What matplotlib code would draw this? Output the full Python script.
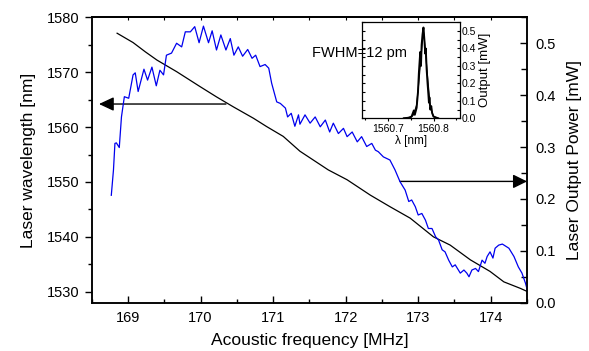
import matplotlib
matplotlib.use("Agg")
import matplotlib.pyplot as plt
from matplotlib.ticker import MultipleLocator

plt.rcParams['font.family'] = ['Liberation Sans', 'DejaVu Sans']

# blue curve: laser output power [mW] vs acoustic frequency [MHz]
power_freq = [168.77, 168.80, 168.82, 168.84, 168.88, 168.91, 168.95, 169.01, 169.07, 169.10,
              169.14, 169.22, 169.27, 169.33, 169.39, 169.44, 169.49, 169.53, 169.60, 169.67,
              169.74, 169.79, 169.86, 169.92, 169.98, 170.04, 170.11, 170.16, 170.22, 170.28,
              170.35, 170.41, 170.46, 170.52, 170.58, 170.65, 170.71, 170.76, 170.82, 170.89,
              170.94, 170.98, 171.05, 171.10, 171.17, 171.20, 171.25, 171.30, 171.35, 171.37,
              171.44, 171.51, 171.58, 171.65, 171.72, 171.78, 171.83, 171.90, 171.97, 172.02,
              172.09, 172.16, 172.22, 172.29, 172.36, 172.41, 172.45, 172.52, 172.61, 172.68,
              172.75, 172.82, 172.87, 172.91, 172.96, 173.00, 173.05, 173.10, 173.14, 173.19,
              173.24, 173.28, 173.33, 173.37, 173.42, 173.47, 173.51, 173.58, 173.63, 173.67,
              173.70, 173.74, 173.79, 173.83, 173.88, 173.92, 173.95, 173.99, 174.03, 174.06,
              174.11, 174.16, 174.25, 174.32, 174.38, 174.43, 174.48, 174.51]
power_mw = [0.207, 0.256, 0.307, 0.308, 0.299, 0.358, 0.397, 0.394, 0.439, 0.443,
            0.407, 0.450, 0.429, 0.454, 0.418, 0.448, 0.439, 0.477, 0.481, 0.500,
            0.493, 0.522, 0.522, 0.532, 0.501, 0.533, 0.501, 0.524, 0.487, 0.516,
            0.487, 0.509, 0.477, 0.493, 0.475, 0.488, 0.471, 0.477, 0.455, 0.459,
            0.452, 0.423, 0.387, 0.384, 0.375, 0.358, 0.365, 0.340, 0.362, 0.344,
            0.362, 0.346, 0.358, 0.339, 0.352, 0.329, 0.346, 0.326, 0.336, 0.320,
            0.329, 0.310, 0.320, 0.301, 0.307, 0.294, 0.291, 0.281, 0.275, 0.256,
            0.233, 0.217, 0.195, 0.198, 0.185, 0.169, 0.172, 0.159, 0.143, 0.143,
            0.127, 0.121, 0.102, 0.098, 0.082, 0.069, 0.073, 0.057, 0.063, 0.057,
            0.050, 0.063, 0.066, 0.060, 0.082, 0.076, 0.089, 0.098, 0.086, 0.105,
            0.111, 0.113, 0.105, 0.089, 0.069, 0.057, 0.037, 0.021]

# black curve: laser wavelength [nm] vs acoustic frequency [MHz]
wl_freq = [168.85, 169.07, 169.24, 169.40, 169.67, 169.99, 170.22, 170.45, 170.73, 170.91,
           171.14, 171.37, 171.76, 172.02, 172.34, 172.61, 172.89, 173.21, 173.44, 173.72,
           173.99, 174.18, 174.41, 174.51]
wl_nm = [1577.1, 1575.4, 1573.7, 1572.2, 1570.1, 1567.4, 1565.5, 1563.7, 1561.6, 1560.1,
         1558.3, 1555.6, 1552.2, 1550.4, 1547.6, 1545.5, 1543.4, 1540.0, 1538.5, 1535.8,
         1533.7, 1531.8, 1530.6, 1530.0]

# inset: measured spectrum and fitted line
spec_lam = [1560.735, 1560.745, 1560.752, 1560.757, 1560.759, 1560.763, 1560.766, 1560.768,
            1560.770, 1560.771, 1560.7725, 1560.774, 1560.776, 1560.778, 1560.780, 1560.782,
            1560.783, 1560.785, 1560.787, 1560.789, 1560.790, 1560.791, 1560.793, 1560.795,
            1560.797, 1560.800, 1560.810]
spec_mw = [0.0, 0.003, 0.01, 0.045, 0.02, 0.06, 0.15, 0.26, 0.34, 0.38, 0.30, 0.42, 0.48,
           0.52, 0.45, 0.37, 0.40, 0.28, 0.20, 0.13, 0.09, 0.12, 0.05, 0.07, 0.03, 0.01, 0.0]
fit_lam = [1560.735, 1560.750, 1560.756, 1560.763, 1560.768, 1560.773, 1560.778, 1560.783,
           1560.788, 1560.793, 1560.800, 1560.811]
fit_mw = [0.0, 0.004, 0.019, 0.076, 0.209, 0.362, 0.505, 0.362, 0.209, 0.066, 0.009, 0.0]

fig = plt.figure(figsize=(5.89, 3.51), dpi=100)
ax = fig.add_axes([0.1557, 0.1376, 0.7391, 0.8131])
ax2 = ax.twinx()

ax.plot(wl_freq, wl_nm, color='black', lw=0.9)
ax2.plot(power_freq, power_mw, color='#0000ee', lw=0.9)

ax.set_xlim(168.5, 174.5)
ax.set_ylim(1528, 1580)
ax2.set_ylim(0, 0.55)

ax.xaxis.set_major_locator(MultipleLocator(1))
ax.xaxis.set_minor_locator(MultipleLocator(0.5))
ax.yaxis.set_major_locator(MultipleLocator(10))
ax.yaxis.set_minor_locator(MultipleLocator(5))
ax2.yaxis.set_major_locator(MultipleLocator(0.1))
ax2.yaxis.set_minor_locator(MultipleLocator(0.05))
ax2.yaxis.set_major_formatter(plt.FormatStrFormatter('%.1f'))

for sp in list(ax.spines.values()) + list(ax2.spines.values()):
    sp.set_linewidth(1.1)

ax.tick_params(axis='y', which='major', direction='out', length=5, width=1, labelsize=10.5)
ax.tick_params(axis='y', which='minor', direction='out', length=3, width=1)
ax.tick_params(axis='x', which='major', direction='in', length=5, width=1, labelsize=10.5, pad=6)
ax.tick_params(axis='x', which='minor', direction='in', length=3, width=1)
ax2.tick_params(axis='y', which='major', direction='in', length=5, width=1, labelsize=10.5, pad=6)
ax2.tick_params(axis='y', which='minor', direction='in', length=4, width=1)

top = ax.secondary_xaxis('top')
top.set_xticks([169 + 0.5 * i for i in range(11)])
top.tick_params(direction='in', length=2, width=0.8, labeltop=False)
top.spines['top'].set_linewidth(1.1)

ax.set_xlabel('Acoustic frequency [MHz]', fontsize=12.5, labelpad=6)
ax.set_ylabel('Laser wavelength [nm]', fontsize=12.5, labelpad=8)
ax2.set_ylabel('Laser Output Power [mW]', fontsize=12.5, labelpad=8)

# arrows pointing to the axes
ax.annotate('', xy=(168.6, 1564.2), xytext=(170.35, 1564.2),
            arrowprops=dict(arrowstyle='-|>,head_length=0.9,head_width=0.42', mutation_scale=10,
                            color='black', lw=1, shrinkA=0, shrinkB=0))
ax.annotate('', xy=(174.5, 1550.1), xytext=(172.75, 1550.1),
            arrowprops=dict(arrowstyle='-|>,head_length=0.85,head_width=0.42', mutation_scale=10,
                            color='black', lw=1, shrinkA=0, shrinkB=0))

# inset
ins = fig.add_axes([0.615, 0.663, 0.166, 0.275])
ins.plot(fit_lam, fit_mw, color='black', lw=0.8)
ins.plot(spec_lam, spec_mw, color='black', lw=1.4)
ins.set_xlim(1560.644, 1560.858)
ins.set_ylim(0, 0.553)
ins.xaxis.set_major_locator(MultipleLocator(0.1))
ins.xaxis.set_minor_locator(MultipleLocator(0.05))
ins.xaxis.set_major_formatter(plt.FormatStrFormatter('%.1f'))
ins.yaxis.set_major_locator(MultipleLocator(0.1))
ins.yaxis.set_minor_locator(MultipleLocator(0.05))
ins.yaxis.set_major_formatter(plt.FormatStrFormatter('%.1f'))
ins.yaxis.tick_right()
ins.yaxis.set_label_position('right')
ins.tick_params(axis='y', which='both', left=True, right=True, direction='in', length=2.5,
                width=0.8, labelsize=7.5, pad=1.5)
ins.tick_params(axis='x', which='major', direction='out', length=2.5, width=0.8, labelsize=7.5, pad=1.5)
ins.tick_params(axis='x', which='minor', direction='out', length=1.5, width=0.8)
for sp in ins.spines.values():
    sp.set_linewidth(0.9)
ins.set_xlabel('λ [nm]', fontsize=8.5, labelpad=1)
ins.set_ylabel('Output [mW]', fontsize=9.5, labelpad=2)

fig.text(0.529, 0.848, 'FWHM=12 pm', fontsize=10.5, ha='left', va='center', zorder=10)

fig.savefig('out.png', dpi=100)
